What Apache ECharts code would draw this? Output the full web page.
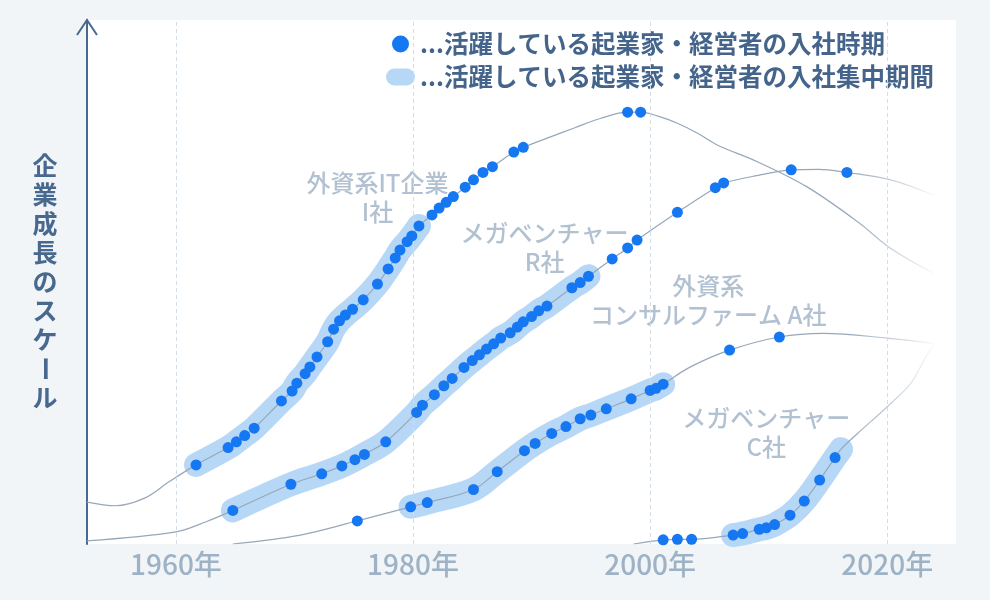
<!DOCTYPE html>
<html><head><meta charset="utf-8">
<script src="https://cdn.jsdelivr.net/npm/echarts@6/dist/echarts.min.js"></script>
<style>html,body{margin:0;padding:0;background:#f2f5f7}#c{width:990px;height:600px}</style>
</head><body><div id="c"></div>
<script>
// ---- data (years, growth scale 0-100) ----
const tickYears = [1960, 1980, 2000, 2020];
const legendNames = ['...活躍している起業家・経営者の入社時期', '...活躍している起業家・経営者の入社集中期間'];
const yTitle = '企業成長のスケール';

// 外資系IT企業 I社
const iLead = [[1952.5, 8.0], [1954.9, 7.3], [1957.4, 8.8], [1959.5, 12.0]];
const iDots = [[1961.7,15.1],[1964.4,18.4],[1965.1,19.5],[1965.8,20.7],[1966.6,22.1],[1968.9,27.3],[1969.8,29.2],[1970.2,30.7],[1970.9,32.5],[1971.3,33.8],[1971.9,35.7],[1972.8,38.6],[1973.3,41.0],[1973.8,42.6],[1974.3,43.7],[1974.9,44.8],[1975.8,46.6],[1977.0,49.6],[1977.9,52.5],[1978.5,54.6],[1978.9,56.1],[1979.5,57.7],[1979.9,58.8],[1980.5,60.7],[1981.6,62.8],[1982.2,64.1],[1982.8,65.2],[1983.4,66.3],[1984.4,68.1],[1985.1,69.5],[1985.9,70.9],[1986.7,72.0],[1988.5,74.8],[1989.3,75.7],[1998.1,82.4],[1999.2,82.4]];
const iPath = [[1991.6,77.7],[1993.6,79.4],[1995.8,81.2],[2000.6,81.7],[2002.3,80.3],[2004.0,78.4],[2005.7,76.1],[2009.0,73.0],[2013.2,68.2],[2017.5,61.5],[2020.3,56.4],[2023.9,51.7]];
const iBand = [1961.7, 1980.5];

// メガベンチャー R社
const rLead = [[1952.5,0.6],[1960.0,2.3],[1962.6,4.3]];
const rDots = [[1964.8,6.4],[1969.7,11.4],[1972.3,13.4],[1974.0,14.9],[1975.1,16.1],[1975.9,17.1],[1977.7,19.5],[1980.3,25.1],[1980.8,26.5],[1981.8,28.5],[1982.6,30.2],[1983.3,31.6],[1984.3,33.7],[1985.0,35.0],[1985.6,36.1],[1986.2,37.2],[1986.8,38.2],[1987.4,39.3],[1988.2,40.3],[1988.8,41.4],[1989.3,42.4],[1990.0,43.4],[1990.6,44.5],[1991.3,45.4],[1993.4,48.9],[1994.1,49.9],[1994.8,51.1],[1996.8,54.4],[1998.1,56.5],[1998.9,58.0],[2002.3,63.3],[2005.5,68.0],[2006.2,68.9],[2011.9,71.4],[2016.6,70.9]];
const rPath = [[2009.0,70.3],[2014.2,71.5],[2020.3,69.5],[2023.9,66.6]];
const rBand = [1964.8, 1994.8];

// 外資系コンサルファーム A社
const aLead = [[1964.8,0],[1970.5,1.7]];
const aDots = [[1975.3,4.4],[1979.8,7.1],[1981.2,7.9],[1985.1,10.4],[1987.1,13.8],[1989.4,17.8],[1990.3,19.2],[1991.7,21.1],[1992.9,22.4],[1994.1,23.9],[1995.0,24.6],[1996.3,25.8],[1998.4,27.7],[2000.0,29.3],[2000.5,29.7],[2001.1,30.5],[2006.7,37.0],[2010.9,39.5]];
const aPath = [[2003.4,33.8],[2014.6,40.2],[2020.0,39.3],[2023.9,38.3]];
const aBand = [1979.8, 2001.1];

// メガベンチャー C社
const cLead = [[1998.6,0]];
const cDots = [[2001.1,0.8],[2002.3,0.9],[2003.5,0.9],[2007.0,1.7],[2007.8,2.0],[2009.2,2.8],[2009.8,3.1],[2010.5,3.7],[2011.8,5.5],[2013.0,8.2],[2014.3,12.2],[2015.6,16.5]];
const cPath = [[2016.1,18.1],[2017.5,21.1],[2020.0,26.2],[2022.0,30.7],[2023.1,35.1],[2023.9,38.0]];
const cBand = [2007.0, 2016.1];

// company labels
const labelTexts = ['外資系IT企業\nI社', 'メガベンチャー\nR社', '外資系\nコンサルファーム A社', 'メガベンチャー\nC社'];
const labelYears = [1977.0, 1991.1, 2004.9, 2009.8];
const labelValues = [66.2, 56.6, 46.4, 21.3];

// ---- styling ----
const FONT = '"Noto Sans CJK JP", "Noto Sans", sans-serif';
const X_MIN = 1952.5, X_MAX = 2025.8;
const DOT = '#1677f2', BAND = '#b7d7f7', AXIS = '#48698f', LABEL = '#9db2c5', LINE = '150,167,185';
const PILL = 'path://M8.5,0 H20.5 A8.5,8.5 0 0 1 20.5,17 H8.5 A8.5,8.5 0 0 1 8.5,0 Z';

const companies = [
  {lead: iLead, dots: iDots, path: iPath, band: iBand},
  {lead: rLead, dots: rDots, path: rPath, band: rBand},
  {lead: aLead, dots: aDots, path: aPath, band: aBand},
  {lead: cLead, dots: cDots, path: cPath, band: cBand}
];
const curveOf = c => [...c.lead, ...c.dots, ...c.path].sort((a, b) => a[0] - b[0]);

const fade = {type: 'linear', x: 87, y: 0, x2: 935, y2: 0, global: true,
  colorStops: [{offset: 0, color: 'rgba(' + LINE + ',1)'}, {offset: 0.9, color: 'rgba(' + LINE + ',1)'}, {offset: 1, color: 'rgba(' + LINE + ',0.05)'}]};

const series = [];
series.push({type: 'line', data: [], silent: true, z: 1,
  markLine: {symbol: ['none', 'none'], silent: true, label: {show: false},
    lineStyle: {color: '#d3dde6', type: [4, 3], width: 1},
    data: tickYears.map(y => ({xAxis: y}))}});
companies.forEach(c => {
  series.push({name: legendNames[1], type: 'line', data: curveOf(c).filter(p => p[0] >= c.band[0] && p[0] <= c.band[1]),
    smooth: 0.35, symbol: 'none', showSymbol: false, color: BAND,
    lineStyle: {width: 24, color: BAND, cap: 'round', join: 'round'}, silent: true, z: 2});
});
companies.forEach(c => {
  series.push({type: 'line', data: curveOf(c), smooth: 0.35, symbol: 'none', showSymbol: false,
    lineStyle: {width: 1.2, color: fade}, silent: true, z: 3});
});
series.push({name: legendNames[0], type: 'scatter', data: companies.flatMap(c => c.dots), symbolSize: 11,
  itemStyle: {color: DOT, opacity: 1}, color: DOT, z: 5});
series.push({type: 'scatter', silent: true, z: 4, symbol: 'circle', symbolSize: 1, itemStyle: {color: 'rgba(0,0,0,0)'},
  data: labelTexts.map((t, i) => ({name: t, value: [labelYears[i], labelValues[i]]})),
  label: {show: true, position: 'inside', formatter: '{b}', color: LABEL, fontSize: 24, lineHeight: 29,
    fontFamily: FONT, fontWeight: 500, align: 'center', verticalAlign: 'middle'}});

const graphicArr = yTitle.split('').map((ch, i) => ({
  type: 'text', x: 45, y: 165 + i * 29.1, rotation: ch === 'ー' ? -Math.PI / 2 : 0,
  style: {text: ch, fill: AXIS, font: 'bold 25px ' + FONT, textAlign: 'center', textVerticalAlign: 'middle', align: 'center', verticalAlign: 'middle'}
}));

const chart = echarts.init(document.getElementById('c'));
chart.setOption({
  animation: false,
  backgroundColor: '#f2f5f7',
  grid: {left: 87, right: 34, top: 20, bottom: 56, show: true, backgroundColor: '#fff', borderWidth: 0, outerBoundsMode: 'none'},
  xAxis: {type: 'value', min: X_MIN, max: X_MAX, axisLine: {show: false}, axisTick: {show: false}, splitLine: {show: false},
    axisLabel: {customValues: tickYears, formatter: v => v + '年', color: LABEL, fontSize: 28, fontFamily: FONT, fontWeight: 500, margin: 6}},
  yAxis: {type: 'value', min: 0, max: 100, axisLine: {show: true, lineStyle: {color: AXIS, width: 2}},
    axisTick: {show: false}, axisLabel: {show: false}, splitLine: {show: false}},
  legend: {orient: 'vertical', left: 386, top: 31, padding: 0, itemGap: 7, itemWidth: 29, itemHeight: 17, selectedMode: false,
    textStyle: {color: '#44648b', fontSize: 24.5, fontWeight: 'bold', lineHeight: 26, fontFamily: FONT},
    data: [{name: legendNames[0], icon: 'circle', itemStyle: {color: DOT}},
           {name: legendNames[1], icon: PILL, itemStyle: {color: BAND}}]},
  graphic: graphicArr,
  series: series
});
const tip = chart.convertToPixel({gridIndex: 0}, [X_MIN, 100]);
graphicArr.push({type: 'polyline', shape: {points: [[tip[0] - 10, tip[1] + 15], [tip[0], tip[1]], [tip[0] + 10, tip[1] + 15]]},
  style: {stroke: AXIS, lineWidth: 2, fill: null}});
chart.setOption({graphic: graphicArr});
</script></body></html>
